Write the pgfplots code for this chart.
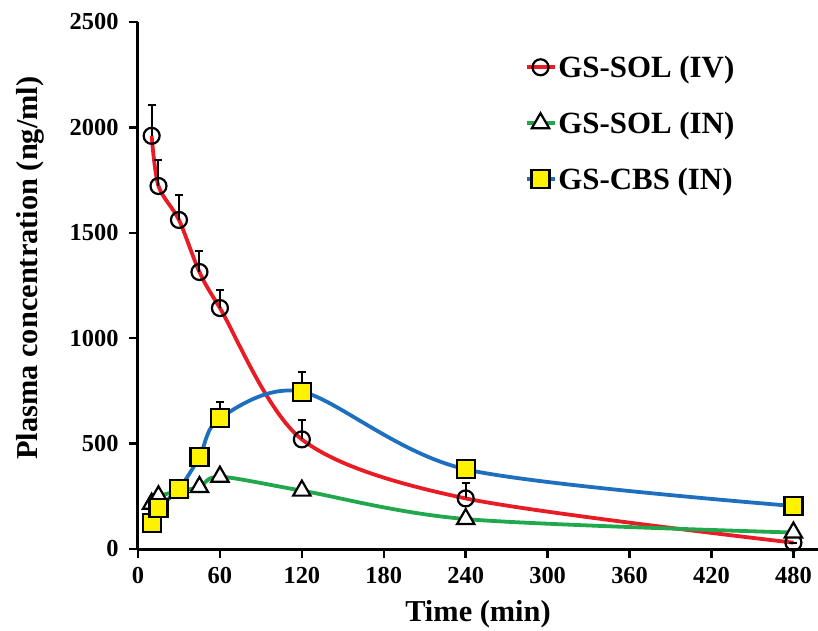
\documentclass[border=0pt]{standalone}
\usepackage{fontspec}
\setmainfont{Liberation Serif}
\usepackage{pgfplots}
\pgfplotsset{compat=1.18}

\definecolor{ivred}{RGB}{232,28,36}
\definecolor{ingreen}{RGB}{34,168,76}
\definecolor{cbsblue}{RGB}{30,112,190}

\begin{document}
\begin{tikzpicture}
\useasboundingbox (-138bp,-82bp) rectangle (680bp,549bp);
\begin{axis}[
  at={(0,0)}, anchor=origin,
  scale only axis, width=680bp, height=527bp,
  xmin=0, xmax=498, ymin=0, ymax=2500,
  axis x line*=bottom, axis y line*=left,
  axis line style={line width=3bp, black},
  xtick={0,60,...,480}, ytick={0,500,...,2500},
  tick align=outside, major tick length=9bp,
  tick style={line width=2.5bp, black},
  ticklabel style={font=\fontsize{24.5}{24.5}\selectfont\bfseries},
  xticklabel style={yshift=-6bp},
  yticklabel style={xshift=-7bp},
  /pgf/number format/assume math mode=true,
  /pgf/number format/1000 sep={},
  xlabel={Time (min)}, ylabel={Plasma concentration (ng/ml)},
  label style={font=\fontsize{30.5}{30.5}\selectfont\bfseries},
  xlabel style={at={(axis description cs:0.5,-0.1233)}, anchor=center},
  ylabel style={at={(axis description cs:-0.159,0.533)}, anchor=center},
  clip=false,
  legend style={at={(axis cs:283,2350)}, anchor=north west, draw=none, fill=none,
    font=\fontsize{31}{31}\selectfont\bfseries, row sep=29bp, inner sep=0pt},
  legend cell align=left,
  legend image code/.code={\draw[mark repeat=2,mark phase=2] plot coordinates {(0bp,0bp)(14bp,0bp)(28bp,0bp)};},
]

% GS-SOL (IV)
\addplot+[ivred, line width=3.8bp, smooth, mark=o, mark size=8bp,
  mark options={solid, line width=2.2bp, draw=black, fill=white},
  error bars/.cd, y dir=plus, y explicit,
  error bar style={line width=2bp, black},
  error mark options={rotate=90, mark size=4bp, line width=2bp, black}]
coordinates {
  (10,1960) +- (0,146)
  (15,1722) +- (0,125)
  (30,1561) +- (0,120)
  (45,1314) +- (0,100)
  (60,1143) +- (0,85)
  (120,520) +- (0,90)
  (240,240) +- (0,75)
  (480,30) +- (0,0)
};
\addlegendentry{GS-SOL (IV)}

% GS-SOL (IN)
\addplot+[ingreen, line width=3.8bp, smooth, mark=triangle*, mark size=10bp,
  mark options={solid, line width=2.2bp, draw=black, fill=white}]
coordinates {
  (10,215)
  (15,250)
  (30,275)
  (45,294)
  (60,343)
  (120,277)
  (240,142)
  (480,78)
};
\addlegendentry{GS-SOL (IN)}

% GS-CBS (IN)
\addplot+[cbsblue, line width=3.8bp, smooth, mark=square*, mark size=9bp,
  mark options={solid, line width=2.2bp, draw=black, fill=yellow},
  error bars/.cd, y dir=plus, y explicit,
  error bar style={line width=2bp, black},
  error mark options={rotate=90, mark size=4bp, line width=2bp, black}]
coordinates {
  (10,123) +- (0,0)
  (15,194) +- (0,0)
  (30,285) +- (0,0)
  (45,436) +- (0,45)
  (60,621) +- (0,78)
  (120,746) +- (0,95)
  (240,378) +- (0,20)
  (480,204) +- (0,0)
};
\addlegendentry{GS-CBS (IN)}

\end{axis}
\end{tikzpicture}
\end{document}
